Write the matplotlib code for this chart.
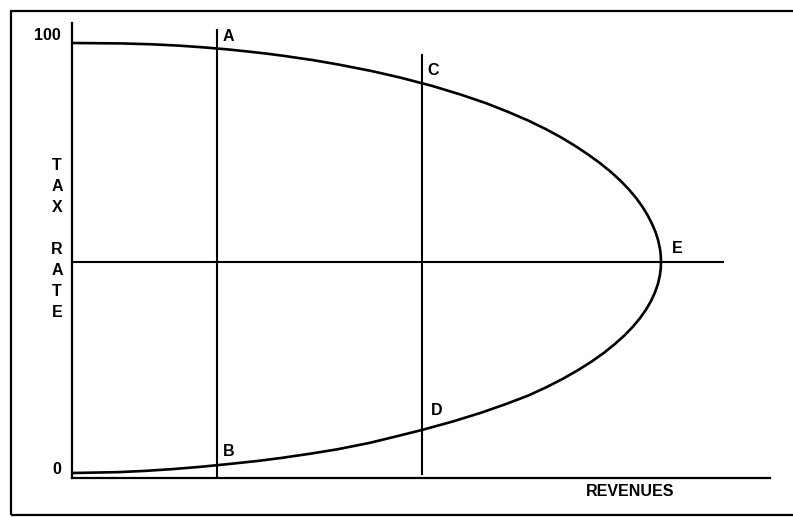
import matplotlib.pyplot as plt
from matplotlib.patches import Rectangle

# Laffer curve (tax rate vs revenues, revenue 100 = peak)
upper_tax = [100, 99.9, 99.7, 99.4, 99, 98.5, 98, 97.5, 97, 96, 95, 93.5, 92, 90, 88, 86, 84, 82,
             80, 78, 76, 74, 72, 70, 68, 66, 64, 62, 60, 58, 56, 54, 52, 50.5, 49]
upper_rev = [0, 8.5, 13.5, 18, 22.2, 26.5, 30, 33.2, 36, 41, 45.2, 50.8, 55.6, 61.2, 66, 70.3, 74, 77.4,
             80.4, 83.1, 85.5, 87.7, 89.7, 91.5, 93.1, 94.5, 95.75, 96.8, 97.7, 98.45, 99.08, 99.53, 99.84, 99.96, 100]
lower_tax = [49, 47.5, 46, 44, 42, 40, 38, 36, 34, 32, 30, 28, 26, 24, 22, 20, 18, 16, 14, 12,
             10, 8.5, 7, 5.5, 4.5, 3.5, 2.8, 2, 1.4, 0.9, 0.5, 0.2, 0]
lower_rev = [100, 99.95, 99.81, 99.48, 98.97, 98.3, 97.45, 96.42, 95.2, 93.79, 92.17, 90.35, 88.3, 86, 83.45, 80.61, 77.44, 73.6, 69.4, 64.7,
             59.4, 55, 50.5, 45, 40.5, 35.5, 31.5, 26, 21.5, 17, 12.5, 7.8, 0]

curve_tax = upper_tax + lower_tax[1:]
curve_rev = upper_rev + lower_rev[1:]

# reference lines
cut_low = 24.6      # A / B
cut_high = 59.4     # C / D
peak_rate = 49      # E
peak_rev = 100

fig = plt.figure(figsize=(7.93, 5.17), dpi=100)
fig.patch.set_facecolor('white')

# outer frame of the scanned figure
fig.patches.append(Rectangle((11 / 793, 2 / 517), 1.0, 504 / 517, transform=fig.transFigure,
                             fill=False, edgecolor='black', linewidth=1.6))

ax = fig.add_axes([72 / 793, 39 / 517, 698 / 793, 455 / 517])
ax.set_xlim(0, 118.5)
ax.set_ylim(-1.16, 104.65)
for side in ['top', 'right']:
    ax.spines[side].set_visible(False)
for side in ['left', 'bottom']:
    ax.spines[side].set_linewidth(1.6)
ax.set_xticks([])
ax.set_yticks([])

ax.plot(curve_rev, curve_tax, color='black', linewidth=1.9, solid_joinstyle='round')

ax.plot([cut_low, cut_low], [103, -1.16], color='black', linewidth=1.5)
ax.plot([cut_high, cut_high], [97.2, -0.2], color='black', linewidth=1.5)
ax.plot([0, 110.5], [peak_rate, peak_rate], color='black', linewidth=1.5)

font = dict(family=['Liberation Sans', 'DejaVu Sans'], fontweight='bold', fontsize=11.5)
ax.text(cut_low + 1.0, 101.6, 'A', ha='left', va='center', **font)
ax.text(cut_low + 1.0, 4.9, 'B', ha='left', va='center', **font)
ax.text(cut_high + 1.0, 93.5, 'C', ha='left', va='center', **font)
ax.text(cut_high + 1.6, 14.5, 'D', ha='left', va='center', **font)
ax.text(peak_rev + 1.8, 52.3, 'E', ha='left', va='center', **font)

fig.text(61 / 793, 1 - 36 / 517, '100', ha='right', va='center', **font)
fig.text(61 / 793, 1 - 470 / 517, '0', ha='right', va='center', **font)
fig.text(57 / 793, 1 - 239 / 517, 'T\nA\nX\n\nR\nA\nT\nE', ha='center', va='center',
         linespacing=1.49, **font)
fig.text(630 / 793, 1 - 492 / 517, 'REVENUES', ha='center', va='center', **font)

fig.savefig('out.png', dpi=100)
